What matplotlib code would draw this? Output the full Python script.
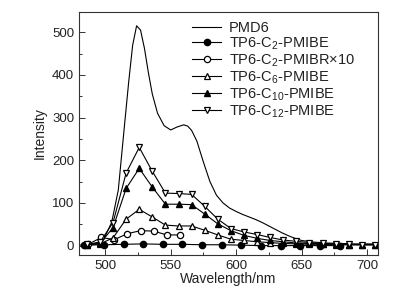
import numpy as np
import matplotlib
matplotlib.use('Agg')
import matplotlib.pyplot as plt
from matplotlib.ticker import MultipleLocator

plt.rcParams.update({
    'font.family': ['Liberation Sans', 'DejaVu Sans'],
    'mathtext.fontset': 'custom',
    'mathtext.rm': 'Liberation Sans',
    'mathtext.default': 'regular',
    'font.size': 9,
})

# PMD6 (plain line)
wl_pmd6 = [480, 485, 490, 495, 500, 505, 510, 515, 518, 521, 524, 527, 530, 533,
           536, 540, 545, 550, 555, 560, 563, 566, 570, 575, 580, 585, 590, 595,
           600, 605, 610, 615, 620, 625, 630, 635, 640, 645, 650, 660, 670, 680,
           690, 700, 708]
pmd6 = [1, 2, 3, 8, 22, 55, 130, 290, 385, 470, 515, 505, 462, 405,
        355, 310, 281, 271, 278, 283, 280, 270, 245, 196, 150, 118, 100, 88,
        80, 73, 67, 61, 54, 46, 38, 30, 23, 17, 12, 8, 6, 5,
        4, 4, 4]

# TP6-C2-PMIBE (filled circles)
wl_c2 = [484, 499, 514, 529, 544, 559, 574, 589, 604, 619, 634, 649, 664, 679]
c2 = [1, 2, 3, 4, 3, 3, 2, 2, 1, 0, 0, 0, 0, 0]

# TP6-C2-PMIBR x10 (open circles)
wl_c2r = [487, 497, 507, 517, 527, 537, 547, 557]
c2r = [3, 19, 14, 28, 35, 34, 25, 25]

# C6 / C10 / C12 share the same wavelength grid
wl_cn = [486, 496, 506, 516, 526, 536, 546, 556, 566, 576, 586, 596, 606, 616,
         626, 636, 646, 656, 666, 676, 686, 696, 706]
c6 = [2, 4, 18, 62, 85, 67, 48, 46, 46, 36, 25, 15, 12, 9, 7, 5, 4, 3, 3, 2, 2, 2, 2]
c10 = [2, 5, 42, 134, 181, 137, 97, 97, 96, 74, 51, 35, 24, 17, 12, 9, 6, 5, 4, 3, 2, 2, 2]
c12 = [3, 8, 54, 170, 230, 174, 123, 122, 120, 92, 62, 40, 32, 26, 19, 13, 10, 7, 5, 4, 3, 2, 2]

labels = ['PMD6', 'TP6-C$_2$-PMIBE', 'TP6-C$_2$-PMIBR\u00d710', 'TP6-C$_6$-PMIBE',
          'TP6-C$_{10}$-PMIBE', 'TP6-C$_{12}$-PMIBE']

fig = plt.figure(figsize=(3.98, 3.06), dpi=100)
ax = fig.add_axes([0.1985, 0.1667, 0.75, 0.795])

lw = 0.8
ms = 5
ax.plot(wl_pmd6, pmd6, color='black', lw=lw, label=labels[0])
ax.plot(wl_c2, c2, color='black', lw=lw, marker='o', ms=ms - 0.5,
        mfc='black', mec='black', label=labels[1])
ax.plot(wl_c2r, c2r, color='black', lw=lw, marker='o', ms=ms - 0.5,
        mfc='white', mec='black', mew=0.9, label=labels[2])
ax.plot(wl_cn, c6, color='black', lw=lw, marker='^', ms=ms,
        mfc='white', mec='black', mew=0.9, label=labels[3])
ax.plot(wl_cn, c10, color='black', lw=lw, marker='^', ms=ms,
        mfc='black', mec='black', label=labels[4])
ax.plot(wl_cn, c12, color='black', lw=lw, marker='v', ms=ms,
        mfc='white', mec='black', mew=0.9, label=labels[5])

ax.set_xlim(480, 708)
ax.set_ylim(-22, 548)
ax.xaxis.set_major_locator(MultipleLocator(50))
ax.xaxis.set_minor_locator(MultipleLocator(25))
ax.yaxis.set_major_locator(MultipleLocator(100))
ax.yaxis.set_minor_locator(MultipleLocator(50))
ax.tick_params(which='both', direction='in', top=False, right=False,
               colors='#333333', labelcolor='#222222', labelsize=9.5)
ax.tick_params(which='major', length=4, width=0.7)
ax.tick_params(which='minor', length=2.5, width=0.7)
for sp in ax.spines.values():
    sp.set_linewidth(0.8)
    sp.set_color('#333333')

ax.set_xlabel('Wavelength/nm', fontsize=10, color='#222222', labelpad=0)
ax.set_ylabel('Intensity', fontsize=10, color='#222222', labelpad=4)

ax.legend(loc='upper left', bbox_to_anchor=(0.483, 0.932),
          bbox_transform=fig.transFigure, frameon=False, fontsize=10.5,
          borderpad=0, borderaxespad=0, handlelength=2.0, handletextpad=0.5,
          labelspacing=0.04, labelcolor='#222222')

fig.savefig('out.png', dpi=100)
